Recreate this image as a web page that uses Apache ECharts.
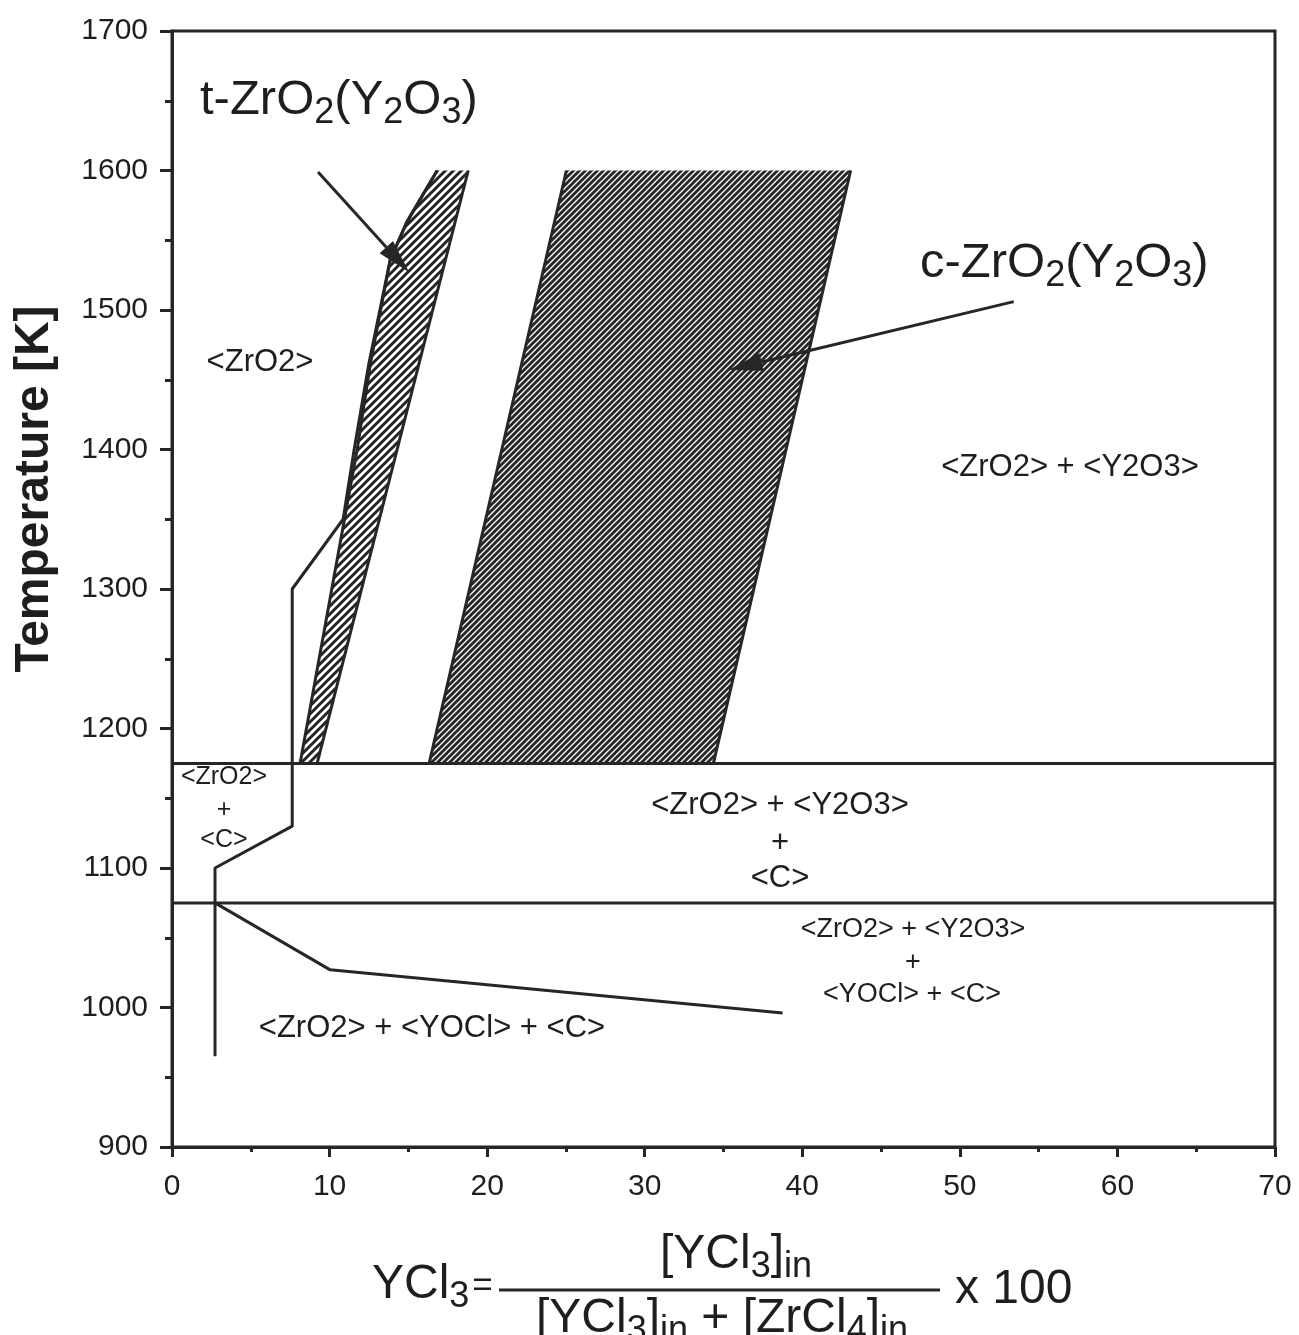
<!DOCTYPE html>
<html><head><meta charset="utf-8">
<script src="https://cdn.jsdelivr.net/npm/echarts@6/dist/echarts.min.js"></script>
<style>html,body{margin:0;padding:0;background:#fff}#c{width:1299px;height:1335px}</style>
</head><body><div id="c"></div>
<script>
// ---- data (x = YCl3 %, y = Temperature K) ----
const tBandLeft  = [[8.13,1175],[11.75,1400],[12.6,1462],[13.85,1536],[14.9,1563],[16.83,1600]];
const tBandRight = [[9.21,1175],[18.8,1600]];
const cBandLeft  = [[16.32,1175],[25.03,1600]];
const cBandRight = [[34.36,1175],[43.07,1600]];
const boundaryMain = [[2.73,965],[2.73,1100],[7.63,1130],[7.63,1300],[10.86,1350],[11.56,1400],[12.5,1462],[13.85,1536],[14.9,1563],[16.83,1600]];
const boundaryLow  = [[2.73,1075],[10.04,1027],[38.75,996]];
const isotherm1175 = [[0,1175],[70,1175]];
const isotherm1075 = [[0,1075],[70,1075]];
const arrowT = [[9.27,1599],[15.05,1527]];
const arrowC = [[53.42,1506],[35.32,1457]];

const FONT = 'Liberation Sans, Arial, Helvetica, sans-serif';
const INK = '#262626';
const TXT = '#1e1e1e';

function hatch(p, lw) {
  const c = document.createElement('canvas');
  c.width = p; c.height = p;
  const g = c.getContext('2d');
  g.strokeStyle = INK; g.lineWidth = lw; g.lineCap = 'square';
  g.beginPath();
  g.moveTo(-p, p); g.lineTo(p, -p);
  g.moveTo(0, p); g.lineTo(p, 0);
  g.moveTo(0, 2 * p); g.lineTo(2 * p, 0);
  g.stroke();
  return c;
}
const tileT = hatch(8, 3.0);
const tileC = hatch(6, 2.9);

function band(left, right, tile) {
  return {
    type: 'custom', coordinateSystem: 'cartesian2d', silent: true, z: 1,
    data: [[0, 1000]], encode: { x: 0, y: 1 },
    renderItem: function (params, api) {
      const pts = left.concat(right.slice().reverse()).map(p => api.coord(p));
      return { type: 'polygon', shape: { points: pts }, style: { fill: { image: tile, repeat: 'repeat' }, stroke: null } };
    }
  };
}
function poly(data, w) {
  return { type: 'line', data: data, showSymbol: false, symbol: 'none', silent: true, z: 3,
    lineStyle: { color: INK, width: w || 3 }, animation: false };
}
function arrow(a2) {
  return {
    type: 'custom', coordinateSystem: 'cartesian2d', silent: true, z: 4,
    data: [[0, 1000]], encode: { x: 0, y: 1 },
    renderItem: function (params, api) {
      const a = api.coord(a2[0]), b = api.coord(a2[1]);
      const dx = b[0] - a[0], dy = b[1] - a[1], L = Math.hypot(dx, dy), ux = dx / L, uy = dy / L;
      const hl = 34, hw = 9;
      const bs = [b[0] - ux * hl, b[1] - uy * hl];
      return { type: 'group', children: [
        { type: 'line', shape: { x1: a[0], y1: a[1], x2: bs[0], y2: bs[1] }, style: { stroke: INK, lineWidth: 3 } },
        { type: 'polygon', shape: { points: [b, [bs[0] - uy * hw, bs[1] + ux * hw], [bs[0] + uy * hw, bs[1] - ux * hw]] }, style: { fill: INK } }
      ]};
    }
  };
}

function txt(s, x, y, fs, opts) {
  return Object.assign({ type: 'text', x: x, y: y, silent: true, z: 10,
    style: { text: s, fill: TXT, font: fs + 'px ' + FONT, textAlign: 'center', textVerticalAlign: 'middle' } }, opts || {});
}
// rich text with lowered subscripts; y = baseline of the normal text
function richTxt(s, x, baseline, fs, sfs, align) {
  const drop = Math.round(fs * 0.17);
  const base = fs / 2 + 0.31 * fs;
  const P = Math.round(base - sfs / 2 - 0.31 * sfs + drop);
  const qs = Math.round(fs * 0.72);
  const Pq = Math.round(base - qs / 2 - 0.31 * qs) - 3;
  return { type: 'text', x: x, y: baseline - base, silent: true, z: 10,
    style: { text: s, fill: TXT, textAlign: align || 'left', textVerticalAlign: 'top',
      rich: {
        n: { fontSize: fs, fontFamily: FONT, lineHeight: fs, verticalAlign: 'top', fill: TXT },
        s: { fontSize: sfs, fontFamily: FONT, lineHeight: sfs, verticalAlign: 'top', padding: [P, 0, 0, 0], fill: TXT },
        q: { fontSize: qs, fontFamily: FONT, lineHeight: qs, verticalAlign: 'top', padding: [Pq, 0, 0, 3], fill: TXT }
      } } };
}

const chart = echarts.init(document.getElementById('c'), null, { renderer: 'canvas' });
chart.setOption({
  animation: false,
  backgroundColor: '#fff',
  grid: { left: 172, right: 24, top: 31, bottom: 188, show: true, borderColor: INK, borderWidth: 3 },
  xAxis: {
    type: 'value', min: 0, max: 70, interval: 10,
    axisLine: { show: true, onZero: false, lineStyle: { color: INK, width: 3 } },
    axisTick: { show: true, length: 10, lineStyle: { color: INK, width: 3 } },
    minorTick: { show: true, splitNumber: 2, length: 5, lineStyle: { color: INK, width: 3 } },
    splitLine: { show: false },
    axisLabel: { fontSize: 30, fontFamily: FONT, color: TXT, margin: 25, formatter: v => String(v) }
  },
  yAxis: {
    type: 'value', min: 900, max: 1700, interval: 100,
    axisLine: { show: true, onZero: false, lineStyle: { color: INK, width: 3 } },
    axisTick: { show: true, length: 12, lineStyle: { color: INK, width: 3 } },
    minorTick: { show: true, splitNumber: 2, length: 7, lineStyle: { color: INK, width: 3 } },
    splitLine: { show: false },
    axisLabel: { fontSize: 30, fontFamily: FONT, color: TXT, margin: 24, formatter: v => String(v) }
  },
  series: [
    band(tBandLeft, tBandRight, tileT),
    band(cBandLeft, cBandRight, tileC),
    poly(tBandLeft), poly(tBandRight), poly(cBandLeft), poly(cBandRight),
    poly(boundaryMain), poly(boundaryLow),
    poly(isotherm1175), poly(isotherm1075),
    arrow(arrowT), arrow(arrowC)
  ],
  graphic: [
    txt('Temperature [K]', 35, 489, 48, { rotation: Math.PI / 2, style: { text: 'Temperature [K]', fill: TXT, font: 'bold 48px ' + FONT, textAlign: 'center', textVerticalAlign: 'middle' } }),
    richTxt('{n|t-ZrO}{s|2}{n|(Y}{s|2}{n|O}{s|3}{n|)}', 200, 116, 49, 36),
    richTxt('{n|c-ZrO}{s|2}{n|(Y}{s|2}{n|O}{s|3}{n|)}', 920, 279, 49, 36),
    txt('<ZrO2>', 260, 362, 31),
    txt('<ZrO2> + <Y2O3>', 1070, 467, 31),
    txt('<ZrO2>', 224, 777, 25),
    txt('+', 224, 810, 25),
    txt('<C>', 224, 840, 25),
    txt('<ZrO2> + <Y2O3>', 780, 805, 31),
    txt('+', 780, 843, 31),
    txt('<C>', 780, 878, 31),
    txt('<ZrO2> + <Y2O3>', 913, 930, 27),
    txt('+', 913, 963, 27),
    txt('<YOCl> + <C>', 912, 995, 27),
    txt('<ZrO2> + <YOCl> + <C>', 432, 1028, 31),
    richTxt('{n|YCl}{s|3}{q|=}', 372, 1300, 48, 36),
    richTxt('{n|[YCl}{s|3}{n|]}{s|in}', 736, 1270, 48, 36, 'center'),
    { type: 'line', silent: true, z: 10, shape: { x1: 499, y1: 1290, x2: 940, y2: 1290 }, style: { stroke: INK, lineWidth: 3 } },
    richTxt('{n|[YCl}{s|3}{n|]}{s|in}{n| + [ZrCl}{s|4}{n|]}{s|in}', 722, 1334, 48, 36, 'center'),
    richTxt('{n|x 100}', 955, 1305, 48, 36)
  ]
});
</script></body></html>
